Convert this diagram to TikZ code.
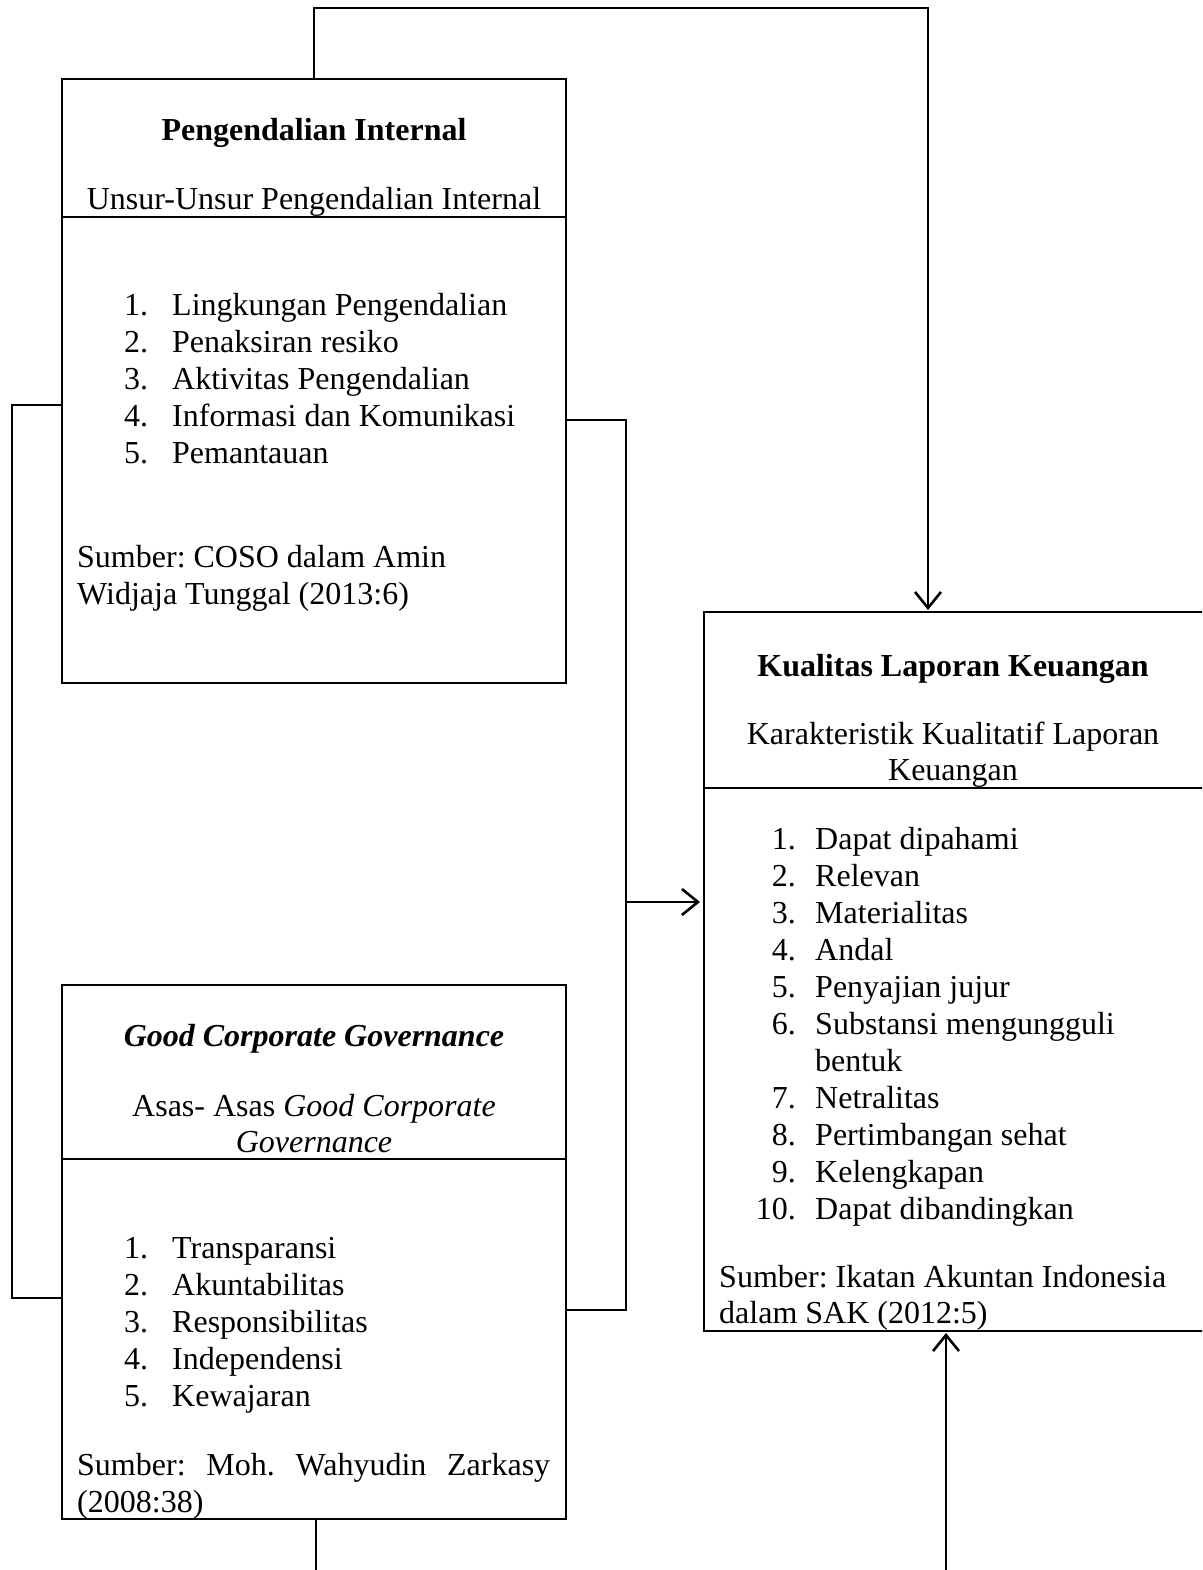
\documentclass[tikz,border=0pt]{standalone}
\usepackage{fontspec}
\setmainfont{Liberation Serif}
\usetikzlibrary{arrows.meta}
\frenchspacing
\begin{document}
\begin{tikzpicture}[x=1pt,y=-1pt,
  box/.style={draw, line width=2.8pt, inner sep=0pt, outer sep=0pt, rectangle},
  txt/.style={inner sep=0pt, font=\fontsize{32}{37}\selectfont},
  hd/.style={txt, font=\fontsize{32}{37}\selectfont\bfseries},
  conn/.style={line width=2.3pt},
  arr/.style={conn, -{Straight Barb[length=16pt,width=26pt,line width=2.6pt]}}]
\useasboundingbox (0,0) rectangle (1202,1570);
\clip (0,0) rectangle (1202,1570);
\fill[white] (0,0) rectangle (1202,1570);

% boxes
\node[box, minimum width=504pt, minimum height=604pt, anchor=north west] (pi) at (62,79) {};
\node[box, minimum width=504pt, minimum height=534pt, anchor=north west] (gcg) at (62,985) {};
\node[box, minimum width=510pt, minimum height=719pt, anchor=north west] (klk) at (704,612) {};

% dividers
\coordinate (d1) at (0,217);
\coordinate (d2) at (0,1159);
\coordinate (d3) at (0,788);
\draw[line width=2.8pt] (d1 -| pi.west) -- (d1 -| pi.east);
\draw[line width=2.8pt] (d2 -| gcg.west) -- (d2 -| gcg.east);
\draw[line width=2.8pt] (d3 -| klk.west) -- (d3 -| klk.east);

% Pengendalian Internal
\node[hd, anchor=base] (pih) at (314,141) {Pengendalian Internal};
\node[txt, anchor=base] (pis) at (314,210) {Unsur-Unsur Pengendalian Internal};
\foreach \n/\t [count=\i] in {1./Lingkungan Pengendalian,2./Penaksiran resiko,3./Aktivitas Pengendalian,4./Informasi dan Komunikasi,5./Pemantauan}{
  \node[txt, anchor=base west] (pin\i) at (124,{315+37*(\i-1)}) {\n};
  \node[txt, anchor=base west] (pil\i) at (172,{315+37*(\i-1)}) {\t};
}
\node[txt, anchor=base west] (pisr1) at (77,567) {Sumber: COSO dalam Amin};
\node[txt, anchor=base west] (pisr2) at (77,604) {Widjaja Tunggal (2013:6)};

% Good Corporate Governance
\node[hd, anchor=base] (gh) at (314,1046) {\itshape Good Corporate Governance};
\node[txt, anchor=base] (gs1) at (314,1116) {Asas- Asas \textit{Good Corporate}};
\node[txt, anchor=base] (gs2) at (314,1152) {\textit{Governance}};
\foreach \n/\t [count=\i] in {1./Transparansi,2./Akuntabilitas,3./Responsibilitas,4./Independensi,5./Kewajaran}{
  \node[txt, anchor=base west] (gn\i) at (124,{1258+37*(\i-1)}) {\n};
  \node[txt, anchor=base west] (gl\i) at (172,{1258+37*(\i-1)}) {\t};
}
\node[txt, anchor=base west] (gsr1) at (77,1475) {\makebox[473pt][s]{Sumber:\hfill Moh.\hfill Wahyudin\hfill Zarkasy}};
\node[txt, anchor=base west] (gsr2) at (77,1512) {(2008:38)};

% Kualitas Laporan Keuangan
\node[hd, anchor=base] (kh) at (953,676) {Kualitas Laporan Keuangan};
\node[txt, anchor=base] (ks1) at (953,744) {Karakteristik Kualitatif Laporan};
\node[txt, anchor=base] (ks2) at (953,780) {Keuangan};
\foreach \n/\t/\y [count=\i] in {1./Dapat dipahami/849,2./Relevan/886,3./Materialitas/923,4./Andal/960,5./Penyajian jujur/997,6./Substansi mengungguli/1034,7./Netralitas/1108,8./Pertimbangan sehat/1145,9./Kelengkapan/1182}{
  \node[txt, anchor=base east] (kn\i) at (796,\y) {\n};
  \node[txt, anchor=base west] (kl\i) at (815,\y) {\t};
}
\node[txt, anchor=base west] (kl6b) at (815,1071) {bentuk};
\node[txt, anchor=base east] (kn10) at (796,1219) {10.};
\node[txt, anchor=base west] (kl10) at (815,1219) {Dapat dibandingkan};
\node[txt, anchor=base west] (ksr1) at (719,1287) {Sumber: Ikatan Akuntan Indonesia};
\node[txt, anchor=base west] (ksr2) at (719,1323) {dalam SAK (2012:5)};

% connectors
\coordinate (t1) at (314,8);
\coordinate (t2) at (928,8);
\draw[arr, shorten >=2pt] (pi.north) -- (t1) -- (t2) -- (t2 |- klk.north);

\coordinate (l1) at (12,405);
\coordinate (l2) at (12,1298);
\draw[conn] (l1 -| pi.west) -- (l1) -- (l2) -- (l2 -| gcg.west);

\coordinate (r1) at (626,420);
\coordinate (r2) at (626,1310);
\coordinate (r3) at (626,902);
\draw[conn] (r1 -| pi.east) -- (r1) -- (r2) -- (r2 -| gcg.east);
\draw[arr, shorten >=4pt] (r3) -- (r3 -| klk.west);

\coordinate (b1) at (316,1580);
\coordinate (b2) at (946,1580);
\draw[conn] (gcg.south -| b1) -- (b1);
\draw[arr, shorten >=2pt] (b2) -- (b2 |- klk.south);
\end{tikzpicture}
\end{document}
